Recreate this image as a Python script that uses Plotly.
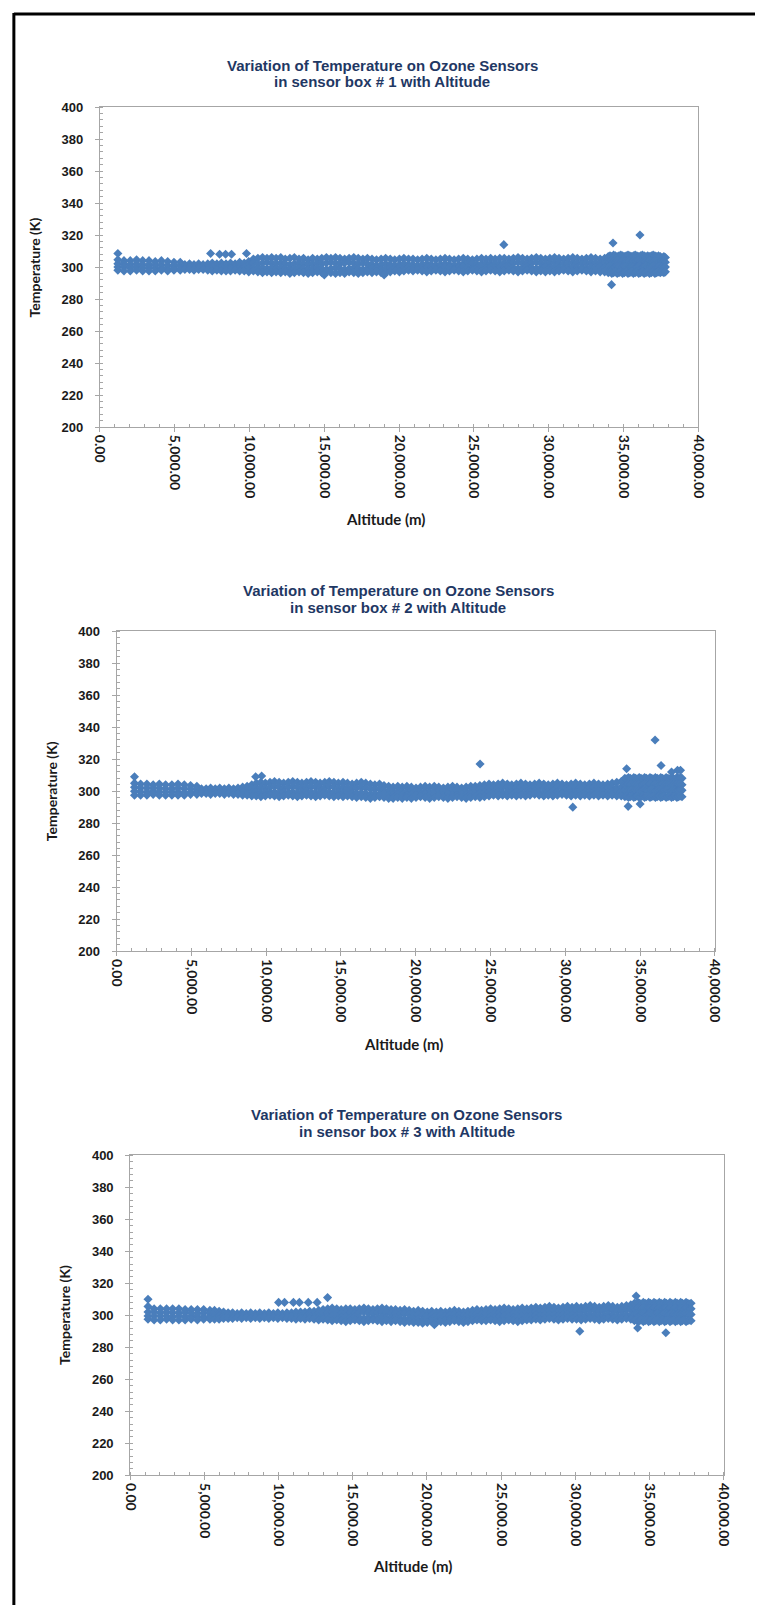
import plotly.graph_objects as go

# ---------------------------------------------------------------------------
# Flight altitude samples (m), shared by all three sensor boxes
# ---------------------------------------------------------------------------
alt_ascent_lo = [1200, 1610, 2030, 2450, 2860, 3280, 3700, 4110, 4530, 4950, 5370]
alt_ascent = [
    5680, 5990, 6290, 6600, 6900, 7210, 7510, 7820, 8120, 8430,
    8730, 9040, 9340, 9650, 9950, 10260, 10560, 10870, 11170, 11480,
    11780, 12090, 12390, 12700, 13000, 13310, 13610, 13920, 14220, 14530,
    14830, 15140, 15440, 15750, 16050, 16360, 16660, 16970, 17270, 17580,
    17880, 18190, 18490, 18800, 19100, 19410, 19710, 20020, 20320, 20630,
    20930, 21240, 21540, 21850, 22150, 22460, 22760, 23070, 23370, 23680,
    23980, 24290, 24590, 24900, 25200, 25510, 25810, 26120, 26420, 26730,
    27030, 27340, 27640, 27950, 28250, 28560, 28860, 29170, 29470, 29780,
    30080, 30390, 30690, 31000, 31300, 31610, 31910, 32220, 32520, 32830,
    33130, 33440, 33740,
]
alt_float = [
    33980, 34100, 34220, 34340, 34460, 34580, 34700, 34820, 34940, 35060,
    35180, 35300, 35420, 35540, 35660, 35780, 35900, 36020, 36140, 36260,
    36380, 36500, 36620, 36740, 36860, 36980, 37100, 37220, 37340, 37460,
    37580, 37700, 37800,
]
altitude_m = alt_ascent_lo + alt_ascent + alt_float

# ---------------------------------------------------------------------------
# Sensor box #1 temperatures (K), four ozone sensors
# ---------------------------------------------------------------------------
box1_s1 = [
    304.5, 304, 304, 304.5, 304, 304, 303.5, 304, 303.5, 303, 303,
    301.5, 302, 301.5, 302, 301.5, 302, 302.5, 302, 302.5, 302,
    302.5, 302, 303, 302.5, 303.5, 305, 305.5, 306, 305.5, 306,
    305.5, 306, 305, 305.5, 306, 305, 305.5, 304.5, 305.5, 305,
    305.5, 306, 305.5, 306, 305.5, 305, 305.5, 306, 305.5, 305,
    305.5, 305, 304.5, 305, 305.5, 305, 304.5, 305, 305.5, 305,
    305, 304.5, 305, 305.5, 305, 304.5, 305, 305.5, 305, 304.5,
    305, 305.5, 305, 304.5, 305, 305.5, 305, 305.5, 305, 305.5,
    305.5, 305, 305.5, 306, 305.5, 305, 305.5, 306, 305.5, 305,
    305.5, 306, 305.5, 305, 305.5, 306, 305.5, 305, 305.5, 306,
    305.5, 305, 305.5,
    306.5, 307, 306.5, 307.5, 307, 306.5, 307, 307.5, 307, 306.5,
    307, 307.5, 307, 306.5, 307, 307.5, 307, 306.5, 307, 307.5,
    307, 306.5, 307, 306.5, 307, 307.5, 307, 306.5, 307, 306.5,
    306, 306.5, 306,
]
box1_s2 = [
    302, 302, 301.5, 302, 301.5, 301.5, 301.5, 301.5, 301, 301, 301,
    300.5, 300.5, 300, 300.5, 300.5, 300.5, 300.5, 300, 300.5, 300.5,
    300.5, 300, 300.5, 300.5, 301, 302.5, 302, 302.5, 303, 302.5,
    302, 302.5, 302, 301.5, 302, 302.5, 302, 301.5, 302, 302.5,
    302, 302.5, 303, 302.5, 302, 302.5, 303, 302.5, 302, 302.5,
    302, 301.5, 301, 301.5, 302, 301.5, 301, 301.5, 302, 301.5,
    301.5, 301, 301.5, 302, 301.5, 301, 301.5, 302, 301.5, 301,
    301.5, 302, 302.5, 302, 301.5, 302, 302.5, 302, 302.5, 302,
    302.5, 302, 302.5, 303, 302.5, 302, 302.5, 303, 302.5, 302,
    302.5, 303, 302.5, 302, 302.5, 303, 302.5, 302, 302.5, 303,
    302.5, 302, 302.5,
    303.5, 303, 304, 303.5, 303, 304, 303.5, 303, 304, 303.5,
    303, 304, 303.5, 303, 304, 303.5, 303, 304, 303.5, 303,
    304, 303.5, 303, 304, 303.5, 303, 304, 303.5, 303, 303.5,
    303, 303.5, 303,
]
box1_s3 = [
    300, 300, 299.5, 300, 299.5, 299.5, 299.5, 299.5, 299, 299, 299,
    299.5, 299.5, 299, 299.5, 299.5, 299, 299.5, 299, 299.5, 299,
    299, 299.5, 299, 299.5, 299, 299.5, 299, 299.5, 299, 299.5,
    299, 299.5, 299, 298.5, 299, 299.5, 299, 298.5, 299, 299.5,
    299, 298.5, 299, 299.5, 299, 298.5, 299, 299.5, 299, 298.5,
    299, 299.5, 299, 298.5, 299, 299.5, 299, 299.5, 299, 299.5,
    299.5, 299, 299.5, 300, 299.5, 299, 299.5, 300, 299.5, 299,
    299.5, 300, 299.5, 299, 299.5, 300, 299.5, 300, 299.5, 300,
    299.5, 300, 299.5, 299, 299.5, 300, 299.5, 299, 299.5, 300,
    299.5, 300, 299.5, 299, 299.5, 300, 299.5, 299, 299.5, 300,
    299.5, 300, 299.5,
    300, 300.5, 300, 299.5, 300, 300.5, 300, 299.5, 300, 300.5,
    300, 299.5, 300, 300.5, 300, 299.5, 300, 300.5, 300, 299.5,
    300, 300.5, 300, 299.5, 300, 300.5, 300, 299.5, 300, 300.5,
    300, 299.5, 300,
]
box1_s4 = [
    298, 297.5, 297.5, 298, 297.5, 297.5, 297.5, 298, 297.5, 298, 298,
    298.5, 298.5, 298, 298.5, 298.5, 298, 297.5, 298, 297.5, 297.5,
    297.5, 298, 297.5, 297.5, 297, 297.5, 297, 296.5, 297, 296.5,
    297, 296.5, 297, 296, 296.5, 297, 296.5, 296, 296.5, 297,
    296.5, 297, 296.5, 296, 296.5, 296, 297, 296.5, 296, 296.5,
    297, 296.5, 297, 296.5, 296.5, 297, 297.5, 297, 297.5, 298,
    297.5, 298, 297.5, 297, 297.5, 298, 297.5, 297, 297.5, 298,
    297.5, 297, 297.5, 298, 297.5, 297, 297.5, 298, 297.5, 297,
    297.5, 298, 297.5, 297, 297.5, 298, 297.5, 297, 297.5, 297,
    297.5, 297, 297.5, 298, 297.5, 297, 297.5, 298, 297.5, 297,
    297.5, 297, 297,
    296.5, 297, 296, 296.5, 297, 296, 296.5, 297, 296, 296.5,
    297, 296, 296.5, 297, 296, 296.5, 297, 296, 296.5, 297,
    296, 296.5, 297, 296, 296.5, 297, 296, 296.5, 297, 296.5,
    297, 296.5, 297,
]
box1_extra_alt = [1200, 7400, 8000, 8400, 8800, 9800, 27000, 34300, 36100, 34200, 19000, 15000]
box1_extra_temp = [308.5, 308.5, 308, 308, 308, 308.5, 314, 315, 320, 289, 295, 295]

# ---------------------------------------------------------------------------
# Sensor box #2 temperatures (K)
# ---------------------------------------------------------------------------
box2_s1 = [
    305, 304.5, 304.5, 304, 304.5, 304, 304, 304.5, 304, 303.5, 303,
    301.5, 301.5, 302, 301.5, 302, 301.5, 302, 301.5, 302, 302.5,
    303, 304, 305, 305.5, 305, 305.5, 306, 305.5, 305, 305.5,
    306, 305.5, 305, 305.5, 306, 305.5, 305, 305.5, 306, 305.5,
    305, 305.5, 305, 304.5, 305, 305.5, 305, 304.5, 304, 304.5,
    303.5, 303, 302.5, 303, 302.5, 303, 302.5, 302, 302.5, 303,
    302.5, 303, 302.5, 302, 302.5, 303, 302.5, 302, 302.5, 303,
    303, 303.5, 304, 304.5, 304, 304.5, 305, 304.5, 304, 304.5,
    305, 304.5, 304, 304.5, 305, 304.5, 304, 304.5, 305, 304.5,
    304, 304.5, 305, 304.5, 304, 304.5, 305, 304.5, 304, 304.5,
    305, 305.5, 306,
    308, 307.5, 308.5, 308, 307.5, 308.5, 308, 307.5, 308.5, 308,
    307.5, 308.5, 308, 307.5, 308.5, 308, 307.5, 308.5, 308, 307.5,
    308.5, 308, 307.5, 308.5, 308, 307.5, 308.5, 308, 307.5, 308.5,
    308, 308.5, 308,
]
box2_s2 = [
    302.5, 302, 302, 302, 302, 301.5, 301.5, 302, 301.5, 301.5, 301,
    300.5, 300.5, 301, 300.5, 301, 300.5, 301, 300.5, 300.5, 301,
    301, 301.5, 302, 302.5, 302, 302.5, 303, 302.5, 302, 302.5,
    303, 302.5, 302, 302.5, 303, 302.5, 302, 302.5, 303, 302.5,
    302, 302.5, 302, 301.5, 302, 302.5, 302, 301.5, 301, 301.5,
    300.5, 300, 299.5, 300, 299.5, 300, 300.5, 300, 299.5, 300,
    299.5, 300, 300.5, 300, 299.5, 300, 300.5, 300, 299.5, 300,
    300.5, 301, 301.5, 302, 301.5, 302, 302.5, 302, 301.5, 302,
    302.5, 302, 301.5, 302, 302.5, 302, 301.5, 302, 302.5, 302,
    301.5, 302, 302.5, 302, 301.5, 302, 302.5, 302, 301.5, 302,
    302.5, 302, 302.5,
    304, 303.5, 304.5, 304, 303.5, 304.5, 304, 303.5, 304.5, 304,
    303.5, 304.5, 304, 303.5, 304.5, 304, 303.5, 304.5, 304, 303.5,
    304.5, 304, 303.5, 304.5, 304, 303.5, 304.5, 304, 303.5, 304.5,
    304, 304.5, 304,
]
box2_s3 = [
    300, 299.5, 299.5, 300, 299.5, 299.5, 299.5, 299.5, 299, 299.5, 299,
    299.5, 299.5, 299, 299.5, 299.5, 299, 299.5, 299.5, 299, 299.5,
    299, 299.5, 299.5, 299, 299.5, 299, 299.5, 299, 299.5, 299,
    299.5, 299, 299.5, 300, 299.5, 299, 299.5, 300, 299.5, 299,
    299.5, 299, 299.5, 299, 298.5, 299, 298.5, 298, 298.5, 298,
    298, 297.5, 297.5, 298, 297.5, 297.5, 298, 297.5, 297.5, 298,
    297.5, 298, 297.5, 297.5, 298, 297.5, 297.5, 298, 297.5, 298,
    298, 298.5, 299, 299.5, 299, 299.5, 299, 299.5, 299, 299.5,
    299.5, 299, 299.5, 300, 299.5, 299, 299.5, 300, 299.5, 299,
    299.5, 299, 299.5, 300, 299.5, 299, 299.5, 300, 299.5, 299,
    299.5, 300, 299.5,
    300.5, 300, 300.5, 301, 300.5, 300, 300.5, 301, 300.5, 300,
    300.5, 301, 300.5, 300, 300.5, 301, 300.5, 300, 300.5, 301,
    300.5, 300, 300.5, 301, 300.5, 300, 300.5, 301, 300.5, 300,
    300.5, 301, 300.5,
]
box2_s4 = [
    297.5, 297.5, 297.5, 298, 297.5, 297.5, 297.5, 297.5, 297.5, 298, 298,
    298.5, 298.5, 298, 298.5, 298.5, 298, 298.5, 298, 298, 297.5,
    297.5, 297, 297, 296.5, 297, 297.5, 297, 296.5, 297, 297.5,
    297, 296.5, 297, 297.5, 297, 296.5, 297, 297.5, 297, 296.5,
    297, 296.5, 297, 296.5, 296, 296.5, 296, 295.5, 296, 296.5,
    296, 295.5, 295.5, 296, 295.5, 296, 295.5, 296, 296.5, 296,
    295.5, 296, 296.5, 296, 295.5, 296, 296.5, 296, 295.5, 296,
    296.5, 296, 296.5, 297, 297.5, 297, 297.5, 297, 297.5, 297,
    297.5, 297, 297.5, 298, 297.5, 297, 297.5, 297, 297.5, 298,
    297.5, 297, 297.5, 297, 297.5, 297, 297.5, 297, 297.5, 297,
    297.5, 297, 297,
    296.5, 297, 296, 296.5, 297, 296, 296.5, 297, 296, 296.5,
    297, 296, 296.5, 297, 296, 296.5, 297, 296, 296.5, 297,
    296, 296.5, 297, 296, 296.5, 297, 296, 296.5, 297, 296,
    296.5, 297, 296.5,
]
box2_extra_alt = [1200, 9300, 9700, 24300, 36000, 30500, 34200, 34100, 36400, 37500, 37700, 35000, 37100]
box2_extra_temp = [309, 309, 309.5, 317, 332, 290, 290.5, 314, 316, 313, 313, 292, 312]

# ---------------------------------------------------------------------------
# Sensor box #3 temperatures (K)
# ---------------------------------------------------------------------------
box3_s1 = [
    305.5, 304, 304, 304, 304, 304, 303.5, 303.5, 303.5, 303.5, 303,
    303, 302.5, 302, 301.5, 301.5, 301, 301.5, 301, 301.5, 301,
    301.5, 301, 301.5, 301, 301.5, 301, 301.5, 301.5, 302, 302,
    302, 302.5, 302.5, 303, 303.5, 304, 304.5, 304, 303.5, 304,
    304, 303.5, 304, 304.5, 304, 303.5, 304, 304.5, 304, 303.5,
    303.5, 303, 303.5, 303, 302.5, 303, 302.5, 302, 302.5, 302,
    302.5, 302, 302.5, 303, 302.5, 302, 302.5, 303, 303.5, 303,
    303.5, 304, 303.5, 304, 304.5, 304, 303.5, 304, 304.5, 304,
    304.5, 305, 304.5, 305, 305.5, 305, 304.5, 305, 305.5, 305,
    305.5, 305, 305.5, 306, 305.5, 305, 305.5, 306, 305.5, 305,
    305.5, 306, 306.5,
    307.5, 307, 308, 307.5, 307, 308, 307.5, 307, 308, 307.5,
    307, 308, 307.5, 307, 308, 307.5, 307, 308, 307.5, 307,
    308, 307.5, 307, 308, 307.5, 307, 308, 307.5, 307, 308,
    307.5, 307, 307.5,
]
box3_s2 = [
    302, 302, 301.5, 302, 301.5, 301.5, 301.5, 301.5, 301, 301.5, 301,
    301.5, 301, 300.5, 300.5, 300.5, 300, 300.5, 300, 300.5, 300,
    300.5, 300, 300.5, 300, 300.5, 300, 300.5, 300, 300.5, 300.5,
    300.5, 301, 300.5, 301, 301.5, 301.5, 302, 301.5, 301, 301.5,
    301.5, 301, 301.5, 302, 301.5, 301, 301.5, 302, 301.5, 301,
    301, 300.5, 301, 300.5, 300, 300.5, 300, 299.5, 300, 299.5,
    300, 299.5, 300, 300.5, 300, 299.5, 300, 300.5, 301, 300.5,
    301, 301.5, 301, 301.5, 302, 301.5, 301, 301.5, 302, 301.5,
    302, 302.5, 302, 302.5, 303, 302.5, 302, 302.5, 303, 302.5,
    303, 302.5, 303, 303.5, 303, 302.5, 303, 303.5, 303, 302.5,
    303, 303.5, 303.5,
    304, 303.5, 304.5, 304, 303.5, 304.5, 304, 303.5, 304.5, 304,
    303.5, 304.5, 304, 303.5, 304.5, 304, 303.5, 304.5, 304, 303.5,
    304.5, 304, 303.5, 304.5, 304, 303.5, 304.5, 304, 303.5, 304.5,
    304, 303.5, 304,
]
box3_s3 = [
    299.5, 299.5, 299.5, 299.5, 299, 299.5, 299, 299.5, 299, 299, 299,
    299.5, 299.5, 299, 299.5, 299, 299, 299.5, 299, 299.5, 299,
    299.5, 299, 299.5, 299, 299.5, 299, 299.5, 299, 299, 299,
    299, 299.5, 299, 298.5, 299, 299, 299.5, 299, 298.5, 299,
    298.5, 299, 298.5, 298, 298.5, 298, 298.5, 299, 298.5, 298,
    298.5, 298, 297.5, 298, 297.5, 297.5, 297, 297.5, 297.5, 297,
    297.5, 297, 297.5, 298, 297.5, 297, 297.5, 298, 298.5, 298,
    298.5, 299, 298.5, 299, 299.5, 299, 298.5, 299, 299.5, 299,
    299.5, 300, 299.5, 300, 300.5, 300, 299.5, 300, 300.5, 300,
    300, 299.5, 300, 300.5, 300, 299.5, 300, 300.5, 300, 299.5,
    300, 300.5, 300,
    300.5, 301, 300.5, 300, 300.5, 301, 300.5, 300, 300.5, 301,
    300.5, 300, 300.5, 301, 300.5, 300, 300.5, 301, 300.5, 300,
    300.5, 301, 300.5, 300, 300.5, 301, 300.5, 300, 300.5, 301,
    300.5, 300, 300.5,
]
box3_s4 = [
    297.5, 297, 297, 297.5, 297, 297, 297, 297.5, 297, 297.5, 297.5,
    297.5, 297.5, 298, 298, 298, 298.5, 298, 298.5, 298, 298.5,
    298, 298.5, 298, 298.5, 298, 298.5, 298, 298, 297.5, 298,
    297.5, 298, 297.5, 297, 297.5, 297, 296.5, 297, 296.5, 296,
    296.5, 297, 296.5, 296, 296.5, 297, 296.5, 296, 296.5, 296,
    296.5, 296, 295.5, 296, 295.5, 295.5, 295, 295.5, 296, 295.5,
    296, 295.5, 296, 296.5, 296, 295.5, 296, 296.5, 297, 296.5,
    296.5, 297, 296.5, 296, 296.5, 297, 296.5, 296, 296.5, 297,
    297, 297.5, 297, 297.5, 298, 297.5, 297, 297.5, 298, 297.5,
    297.5, 297, 297.5, 298, 297.5, 297, 297.5, 298, 297.5, 297,
    297.5, 298, 297.5,
    296.5, 297, 296, 296.5, 297, 296, 296.5, 297, 296, 296.5,
    297, 296, 296.5, 297, 296, 296.5, 297, 296, 296.5, 297,
    296, 296.5, 297, 296, 296.5, 297, 296, 296.5, 297, 296,
    296.5, 297, 296.5,
]
box3_extra_alt = [1200, 10000, 10400, 11000, 11400, 12000, 12600, 13300, 30300, 34100, 36100, 34200, 20500]
box3_extra_temp = [310, 308, 308, 308, 308, 308, 308, 311, 290, 312, 289, 292, 294]

# Axis tick positions
x_ticks = [0, 5000, 10000, 15000, 20000, 25000, 30000, 35000, 40000]
y_ticks = [200, 220, 240, 260, 280, 300, 320, 340, 360, 380, 400]

boxes = [
    ("1", [box1_s1, box1_s2, box1_s3, box1_s4], box1_extra_alt, box1_extra_temp),
    ("2", [box2_s1, box2_s2, box2_s3, box2_s4], box2_extra_alt, box2_extra_temp),
    ("3", [box3_s1, box3_s2, box3_s3, box3_s4], box3_extra_alt, box3_extra_temp),
]

# ---------------------------------------------------------------------------
# Page geometry (pixels) for each panel
# ---------------------------------------------------------------------------
W, H = 764, 1613
panels = [
    # plot edges, title line centres, x-title centre, y-title x, title centre x
    dict(l=94, r=706, t=101, b=424, ty=(59, 75), xty=517, xtx=386, ytx=27, tcx=383),
    dict(l=111, r=723, t=630, b=953, ty=(589, 606), xty=1047, xtx=405, ytx=44, tcx=399),
    dict(l=125, r=732, t=1159, b=1482, ty=(1118, 1135), xty=1574, xtx=414, ytx=58, tcx=408),
]

BLUE = "#4a7ebb"
AXIS_GREY = "#a6a6a6"
TITLE_NAVY = "#1f3864"

fig = go.Figure()
layout = dict(
    width=W, height=H,
    margin=dict(l=0, r=0, t=0, b=0),
    paper_bgcolor="white", plot_bgcolor="white",
    showlegend=False,
    annotations=[], shapes=[],
)

for i, ((num, sensors, ex_alt, ex_temp), p) in enumerate(zip(boxes, panels), start=1):
    sfx = "" if i == 1 else str(i)
    xs, ys = [], []
    for s in sensors:
        for a, t in zip(altitude_m, s):
            xs.append(a)
            ys.append(t)
    xs += ex_alt
    ys += ex_temp
    fig.add_trace(go.Scatter(
        x=xs, y=ys, mode="markers",
        xaxis="x" + sfx, yaxis="y" + sfx,
        marker=dict(symbol="diamond", size=7, color=BLUE, line=dict(width=0)),
        hoverinfo="x+y",
    ))

    layout["xaxis" + sfx] = dict(
        domain=[p["l"] / W, p["r"] / W],
        anchor="y" + sfx,
        range=[0, 40000],
        tickvals=x_ticks,
        tickformat=",.2f",
        tickangle=90,
        ticks="outside", ticklen=4, tickcolor=AXIS_GREY,
        minor=dict(ticks="inside", dtick=1000, ticklen=3, tickcolor=AXIS_GREY),
        showline=True, linecolor=AXIS_GREY, linewidth=1, mirror=True,
        showgrid=False, zeroline=False,
        tickfont=dict(family="Lato, Open Sans, sans-serif", size=14, color="#1a1a1a", weight="bold"),
    )
    layout["yaxis" + sfx] = dict(
        domain=[1 - p["b"] / H, 1 - p["t"] / H],
        anchor="x" + sfx,
        range=[200, 400],
        tickvals=y_ticks,
        ticks="outside", ticklen=4, tickcolor=AXIS_GREY,
        ticklabelstandoff=9,
        minor=dict(ticks="inside", dtick=4, ticklen=3, tickcolor=AXIS_GREY),
        showline=True, linecolor=AXIS_GREY, linewidth=1, mirror=True,
        showgrid=False, zeroline=False,
        tickfont=dict(family="Liberation Sans, Arial, sans-serif", size=13, color="#1a1a1a", weight="bold"),
    )

    # chart title (two lines)
    for line_text, yy in zip(
        ["Variation of Temperature on Ozone Sensors",
         "in sensor box # %s with Altitude" % num],
        p["ty"],
    ):
        layout["annotations"].append(dict(
            text=line_text, x=p["tcx"] / W, y=1 - yy / H,
            xref="paper", yref="paper", xanchor="center", yanchor="middle",
            showarrow=False,
            font=dict(family="Liberation Sans Narrow, Arial Narrow, Liberation Sans, sans-serif",
                      size=15, color=TITLE_NAVY, weight="bold"),
        ))
    # axis titles
    layout["annotations"].append(dict(
        text="Altitude (m)", x=p["xtx"] / W, y=1 - p["xty"] / H,
        xref="paper", yref="paper", xanchor="center", yanchor="middle",
        showarrow=False,
        font=dict(family="Lato, Open Sans, sans-serif", size=15, color="#1a1a1a", weight="bold"),
    ))
    layout["annotations"].append(dict(
        text="Temperature (K)", x=p["ytx"] / W, y=1 - (p["t"] + p["b"]) / 2 / H,
        xref="paper", yref="paper", xanchor="center", yanchor="middle",
        textangle=-90, showarrow=False,
        font=dict(family="Lato, Open Sans, sans-serif", size=14, color="#1a1a1a", weight="bold"),
    ))

# outer frame: left and top edges
layout["shapes"] += [
    dict(type="line", xref="paper", yref="paper", x0=6 / W, x1=6 / W, y0=0, y1=1 - 6 / H,
         line=dict(color="black", width=3)),
    dict(type="line", xref="paper", yref="paper", x0=6 / W, x1=1, y0=1 - 7 / H, y1=1 - 7 / H,
         line=dict(color="black", width=3)),
]

fig.update_layout(**layout)
fig.write_html("out.html", config={"displayModeBar": False})
